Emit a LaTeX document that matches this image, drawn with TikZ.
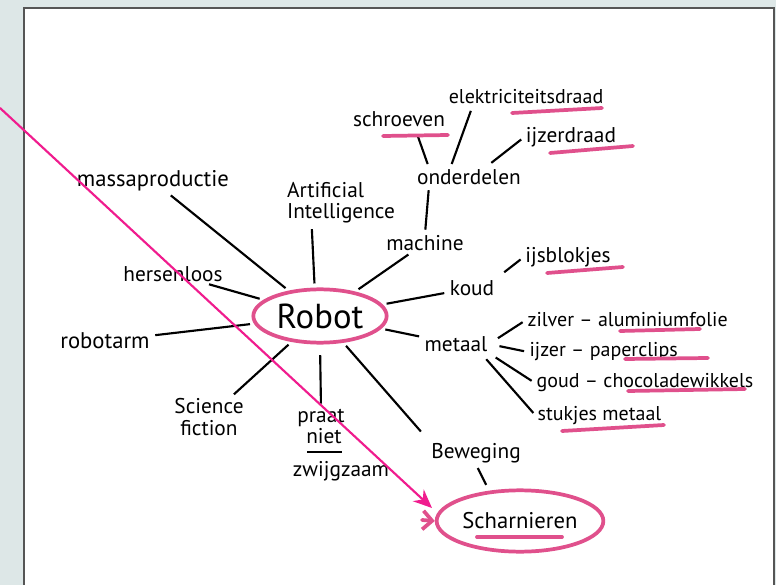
\documentclass[tikz,border=0pt]{standalone}
\usepackage{fontspec}
\setmainfont{PT Sans}
\usetikzlibrary{shapes.geometric,arrows.meta}
\definecolor{marker}{HTML}{E0508C}
\definecolor{pointer}{HTML}{F01C8E}
\definecolor{backdrop}{HTML}{DDE7E7}
\definecolor{frame}{HTML}{555555}
\tikzset{
  word/.style = {font = \fontsize{16}{16}\selectfont, inner sep = 1pt},
  item/.style = {word, font = \fontsize{15}{15}\selectfont, anchor = west},
  link/.style = {line width = 1.6pt, shorten < = 3pt, shorten > = 3pt},
  underline/.style = {marker, line width = 2.8pt, line cap = round},
  bubble/.style = {ellipse, draw = marker, line width = 2.8pt}
}

\begin{document}
\begin{tikzpicture}[x = 0.75pt, y = -0.75pt]
  \useasboundingbox (0, 0) rectangle (776, 585);
  % sheet on the backdrop
  \fill[backdrop] (0, 0) rectangle (776, 585);
  \fill[white] (24, 8) rectangle (774, 585);
  \draw[frame, line width = 1.5pt] (24, 585) -- (24, 8) -- (774, 8) -- (774, 585);

  % centre and the words round it
  \node[bubble, minimum width = 100pt, minimum height = 40pt,
    font = \fontsize{26}{26}\selectfont, inner sep = 0pt] (robot) at (320, 316) {Robot};
  \node[word, font = \fontsize{17}{17}\selectfont] (massa) at (153, 181) {massaproductie};
  \node[word, align = left] (ai) at (341, 203) {Artificial\\Intelligence};
  \node[word] (hersen) at (173, 274) {hersenloos};
  \node[word, font = \fontsize{17}{17}\selectfont] (robotarm) at (105, 341) {robotarm};
  \node[word, align = center] (scifi) at (209, 417) {Science\\fiction};
  \node[word] (praat) at (321, 418) {praat};
  \node[word] (niet) at (324, 436) {niet};
  \node[word] (zwijg) at (341, 471) {zwijgzaam};
  \node[word] (machine) at (425, 243) {machine};
  \node[word] (onder) at (469, 177) {onderdelen};
  \node[word] (schroef) at (399, 119) {schroeven};
  \node[word, font = \fontsize{15}{15}\selectfont] (elek) at (526, 97) {elektriciteitsdraad};
  \node[word] (ijzerdraad) at (571, 137) {ijzerdraad};
  \node[word] (koud) at (472, 288) {koud};
  \node[word] (ijsblok) at (568, 257) {ijsblokjes};
  \node[word] (metaal) at (456, 344) {metaal};
  \node[item] (zilver) at (526, 320) {zilver -- aluminiumfolie};
  \node[item] (ijzer) at (528, 352) {ijzer -- paperclips};
  \node[item] (goud) at (535, 383) {goud -- chocoladewikkels};
  \node[item] (stukjes) at (536, 416) {stukjes metaal};
  \node[word] (beweging) at (476, 453) {Beweging};
  \node[bubble, minimum width = 110pt, minimum height = 46pt, word,
    font = \fontsize{17}{17}\selectfont] (scharn) at (520, 521) {Scharnieren};

  % spokes
  \draw[link] (robot) -- (massa);
  \draw[link] ([xshift = -4pt]robot.north) -- ([xshift = -22pt]ai.south);
  \draw[link] (robot) -- (hersen);
  \draw[link] (robot) -- (robotarm);
  \draw[link] (robot) -- (scifi);
  \draw[link, shorten < = 8pt] (robot.south) -- (praat.north);
  \draw[link] (robot) -- (machine);
  \draw[link] (robot) -- (koud);
  \draw[link] (robot) -- (metaal);
  \draw[link, shorten > = 10pt] (robot) -- (beweging.north west);
  \draw[link] (machine.north) -- ([xshift = -30pt]onder.south);
  \draw[link, shorten < = 6pt] ([xshift = 12pt]schroef.south) -- ([xshift = -30pt]onder.north);
  \draw[link, shorten < = 4pt] ([xshift = -40pt]elek.south) -- ([xshift = -14pt]onder.north);
  \draw[link, shorten < = 6pt] ([xshift = 12pt]onder.north) -- (ijzerdraad.west);
  \draw[link, shorten < = 8pt] (koud.north east) -- (ijsblok.west);
  \draw[link, shorten < = 8pt] (metaal.east) -- (zilver.west);
  \draw[link, shorten < = 8pt] (metaal.east) -- (ijzer.west);
  \draw[link, shorten < = 6pt] (metaal.south east) -- (goud.west);
  \draw[link, shorten < = 6pt] ([xshift = -6pt]metaal.south east) -- (stukjes.west);
  \draw[link] (beweging.south) -- ([xshift = -24pt]scharn.north);

  % pink marks under the words
  \draw[underline] (383, 136) -- (448, 135);
  \draw[underline] (512, 113) -- (602, 108);
  \draw[underline] (550, 153) -- (633, 146);
  \draw[underline] (547, 273) -- (623, 267);
  \draw[underline] (620, 331) -- (700, 329);
  \draw[underline] (625, 359) -- (708, 358);
  \draw[underline] (628, 391) -- (745, 389);
  \draw[underline] (562, 431) -- (664, 425);
  \draw[underline] (477, 537) -- (562, 537);
  \draw[line width = 1.2pt] (307, 452) -- (342, 452);

  % arrows into Scharnieren
  \coordinate (stub) at (422, 520);
  \draw[underline, -{Straight Barb[length = 7pt, width = 14pt]}] (stub) -- (scharn.west);
  \coordinate (start) at (0, 108);
  \coordinate (tip) at (432, 508);
  \draw[pointer, line width = 1.6pt, -{Stealth[length = 14pt, width = 12pt]}] (start) -- (tip);
\end{tikzpicture}
\end{document}
